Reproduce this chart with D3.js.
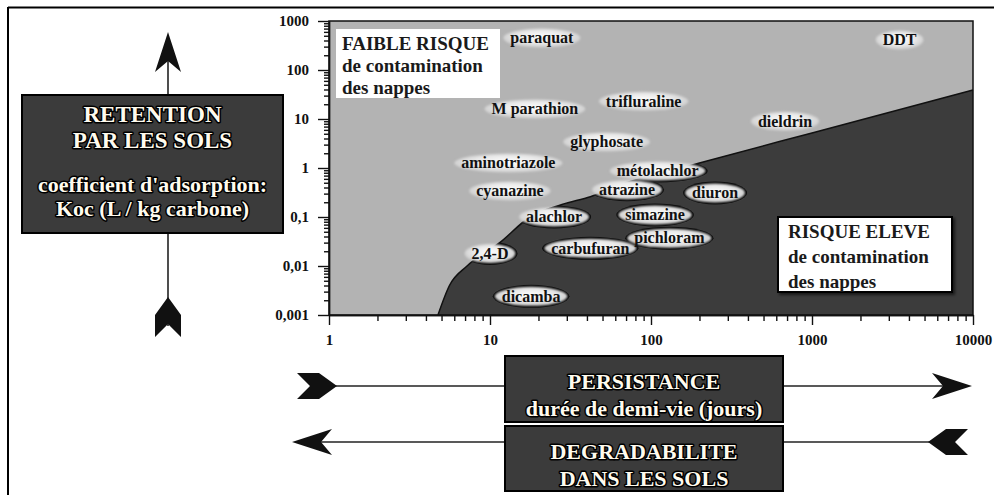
<!DOCTYPE html>
<html><head><meta charset="utf-8">
<script src="https://cdn.jsdelivr.net/npm/d3@7"></script>
<style>
html,body{margin:0;padding:0;background:#fff;}
svg{display:block;}
text{font-family:"Liberation Serif","Times New Roman",serif;font-weight:bold;}
</style></head><body>
<svg id="chart" width="994" height="495"></svg>
<script>
// ---------- data ----------
const compounds = ["paraquat","DDT","M parathion","trifluraline","glyphosate","dieldrin","aminotriazole","métolachlor","cyanazine","atrazine","diuron","alachlor","simazine","2,4-D","carbufuran","pichloram","dicamba"];
const halfLifeDays = [21, 3500, 19, 90, 53, 680, 13, 110, 13.3, 71, 250, 25, 106, 10, 42, 130, 18];
const kocValues    = [450, 410, 16, 23, 3.4, 9, 1.26, 0.87, 0.34, 0.36, 0.31, 0.1, 0.11, 0.018, 0.023, 0.037, 0.0024];

// boundary between low-risk and high-risk zones
const boundaryHalfLife = [4.75, 5.6, 7.2, 11.5, 17.7, 28, 42, 70, 130, 200, 1000, 10000];
const boundaryKoc      = [0.001, 0.004, 0.01, 0.03, 0.1, 0.18, 0.26, 0.5, 0.85, 1.26, 5.2, 39];

const xTickValues = [1, 10, 100, 1000, 10000];
const xTickLabels = ["1", "10", "100", "1000", "10000"];
const yTickValues = [1000, 100, 10, 1, 0.1, 0.01, 0.001];
const yTickLabels = ["1000", "100", "10", "1", "0,1", "0,01", "0,001"];

const lowRiskLines  = ["FAIBLE RISQUE", "de contamination", "des nappes"];
const highRiskLines = ["RISQUE ELEVE", "de contamination", "des nappes"];
const yBoxLines = ["RETENTION", "PAR LES SOLS", "coefficient  d'adsorption:", "Koc  (L / kg carbone)"];
const xBox1Lines = ["PERSISTANCE", "durée de demi-vie  (jours)"];
const xBox2Lines = ["DEGRADABILITE", "DANS LES SOLS"];

// ---------- setup ----------
const svg = d3.select("#chart");
const L = 329, R = 973, T = 21, B = 315;
const x = d3.scaleLog().domain([1, 10000]).range([L, R]);
const y = d3.scaleLog().domain([0.001, 1000]).range([B, T]);

const defs = svg.append("defs");
const rg = defs.append("radialGradient").attr("id", "ellGrad").attr("cx", "50%").attr("cy", "45%").attr("r", "55%");
rg.append("stop").attr("offset", "0%").attr("stop-color", "#ffffff");
rg.append("stop").attr("offset", "55%").attr("stop-color", "#ebebeb");
rg.append("stop").attr("offset", "100%").attr("stop-color", "#cbcbcb");
defs.append("filter").attr("id", "soft").attr("x", "-20%").attr("y", "-40%").attr("width", "140%").attr("height", "180%")
  .append("feGaussianBlur").attr("stdDeviation", 0.9);
const sh = defs.append("filter").attr("id", "shadow").attr("x", "-10%").attr("y", "-10%").attr("width", "130%").attr("height", "140%");
sh.append("feDropShadow").attr("dx", 2).attr("dy", 2).attr("stdDeviation", 1.5).attr("flood-color", "#000").attr("flood-opacity", 0.6);

// outer frame
svg.append("line").attr("x1", 8).attr("x2", 994).attr("y1", 7.5).attr("y2", 7.5).attr("stroke", "#000").attr("stroke-width", 2);
svg.append("line").attr("x1", 8).attr("x2", 8).attr("y1", 7).attr("y2", 495).attr("stroke", "#000").attr("stroke-width", 2);

// ---------- plot zones ----------
svg.append("rect").attr("x", L).attr("y", T).attr("width", R - L).attr("height", B - T).attr("fill", "#b3b3b3");
const boundary = boundaryHalfLife.map((h, i) => ({h, k: boundaryKoc[i]}));
const area = d3.area().x(d => x(d.h)).y0(B).y1(d => y(d.k)).curve(d3.curveMonotoneX);
const areaPath = area(boundary);
svg.append("path").attr("d", areaPath).attr("fill", "#3c3c3c");
svg.append("path").attr("d", d3.line().x(d => x(d.h)).y(d => y(d.k)).curve(d3.curveMonotoneX)(boundary))
  .attr("fill", "none").attr("stroke", "#111").attr("stroke-width", 1.5);
defs.append("clipPath").attr("id", "darkClip").append("path").attr("d", areaPath);
svg.append("rect").attr("x", L).attr("y", T).attr("width", R - L).attr("height", B - T)
  .attr("fill", "none").attr("stroke", "#111").attr("stroke-width", 1.5);

// ---------- zone boxes ----------
function zoneBox(lines, bx, by, bw, bh, tx, baselines, bordered) {
  const g = svg.append("g");
  g.append("rect").attr("x", bx).attr("y", by).attr("width", bw).attr("height", bh).attr("fill", "#fff")
    .attr("stroke", bordered ? "#000" : "none").attr("stroke-width", 2)
    .attr("filter", bordered ? "url(#shadow)" : null);
  lines.forEach((s, i) => g.append("text").attr("x", tx).attr("y", baselines[i])
    .attr("font-size", 19).attr("fill", "#1a1a1a").text(s));
}
zoneBox(lowRiskLines, 336, 29, 164, 69, 342, [50, 72, 94], false);
zoneBox(highRiskLines, 778, 217, 174, 75, 788, [238, 263, 288], true);

// ---------- compound labels ----------
const pts = compounds.map((c, i) => ({c, h: halfLifeDays[i], k: kocValues[i]}));
const lab = svg.append("g");
const gs = lab.selectAll("g").data(pts).join("g").attr("transform", d => `translate(${x(d.h)},${y(d.k)})`);
gs.append("text").attr("class", "lbl").attr("text-anchor", "middle").attr("dy", "0.33em")
  .attr("font-size", 16).attr("fill", "#111").text(d => d.c);
gs.each(function() {
  const g = d3.select(this);
  const w = g.select("text").node().getComputedTextLength();
  const rx = w / 2 + 7, ry = 9.5;
  g.insert("ellipse", "text").attr("rx", rx).attr("ry", ry).attr("fill", "url(#ellGrad)").attr("filter", "url(#soft)");
});
// black outlines where a label sits in the high-risk zone
const outl = svg.insert("g", () => lab.node()).attr("clip-path", "url(#darkClip)");
gs.each(function(d) {
  const e = d3.select(this).select("ellipse");
  outl.append("ellipse").attr("cx", x(d.h)).attr("cy", y(d.k))
    .attr("rx", +e.attr("rx") + 2).attr("ry", +e.attr("ry") + 2).attr("fill", "#000");
});

// ---------- axes ----------
const minorX = [], minorY = [];
for (let p = 0; p < 4; p++) for (let m = 2; m <= 9; m++) minorX.push(m * Math.pow(10, p));
for (let p = -3; p < 3; p++) for (let m = 2; m <= 9; m++) minorY.push(m * Math.pow(10, p));

const xAxisG = svg.append("g").attr("transform", `translate(0,${B})`);
xAxisG.append("g").call(d3.axisBottom(x).tickValues(minorX).tickSize(6).tickSizeOuter(0).tickFormat(""));
xAxisG.append("g").call(d3.axisBottom(x).tickValues(xTickValues).tickSize(10).tickSizeOuter(0).tickPadding(9)
  .tickFormat((d, i) => xTickLabels[i]));
const yAxisG = svg.append("g").attr("transform", `translate(${L},0)`);
yAxisG.append("g").call(d3.axisLeft(y).tickValues(minorY).tickSize(5).tickSizeOuter(0).tickFormat(""));
yAxisG.append("g").call(d3.axisLeft(y).tickValues(yTickValues).tickSize(11).tickSizeOuter(0).tickPadding(9)
  .tickFormat((d, i) => yTickLabels[i]));
svg.selectAll(".tick line, .domain").attr("stroke", "#111").attr("stroke-width", 1.4);
svg.selectAll(".tick text").attr("font-size", 15).attr("fill", "#111")
  .attr("font-family", '"Liberation Serif",serif').attr("font-weight", "bold");

// ---------- explanatory boxes & arrows ----------
const ink = "#111";
function arrowHead(cx, cy, angle) { // classic notched arrowhead, tip at (cx,cy)
  const p = [[0,0],[-40,-13],[-29,0],[-40,13]];
  svg.append("path").attr("d", d3.line()(p) + "Z").attr("fill", ink)
    .attr("transform", `translate(${cx},${cy}) rotate(${angle})`);
}
function chevron(cx, cy, angle) { // fletching, tip at (cx,cy)
  const p = [[0,0],[-18,-13],[-40,-13],[-27,0],[-40,13],[-18,13]];
  svg.append("path").attr("d", d3.line()(p) + "Z").attr("fill", ink)
    .attr("transform", `translate(${cx},${cy}) rotate(${angle})`);
}
function line(x1, y1, x2, y2) {
  svg.append("line").attr("x1", x1).attr("y1", y1).attr("x2", x2).attr("y2", y2).attr("stroke", "#222").attr("stroke-width", 1.6);
}
function darkBox(bx, by, bw, bh, lines, baselines, size) {
  svg.append("rect").attr("x", bx).attr("y", by).attr("width", bw).attr("height", bh)
    .attr("fill", "#3b3b3b").attr("stroke", "#000").attr("stroke-width", 2);
  lines.forEach((s, i) => svg.append("text").attr("x", bx + bw / 2).attr("y", baselines[i])
    .attr("text-anchor", "middle").attr("font-size", size[i])
    .attr("fill", "#fffbee").attr("stroke", "#000").attr("stroke-width", 3)
    .attr("stroke-linejoin", "round").attr("paint-order", "stroke").text(s));
}

// vertical (Koc) arrow
line(168, 60, 168, 95); line(168, 233, 168, 326);
arrowHead(168, 32, -90);
chevron(168, 297, -90);
darkBox(22, 95, 261, 138, yBoxLines, [122, 148, 192, 216], [23, 23, 22, 22]);

// persistence arrow (to the right)
line(320, 386, 505, 386); line(783, 386, 945, 386);
chevron(337, 386, 0);
arrowHead(972, 386, 0);
darkBox(505, 356, 278, 66, xBox1Lines, [389, 416], [22, 22]);

// degradability arrow (to the left)
line(318, 442, 505, 442); line(783, 442, 950, 442);
arrowHead(292, 442, 180);
chevron(928, 442, 180);
darkBox(505, 426, 278, 65, xBox2Lines, [459, 486], [22, 22]);
</script>
</body></html>
